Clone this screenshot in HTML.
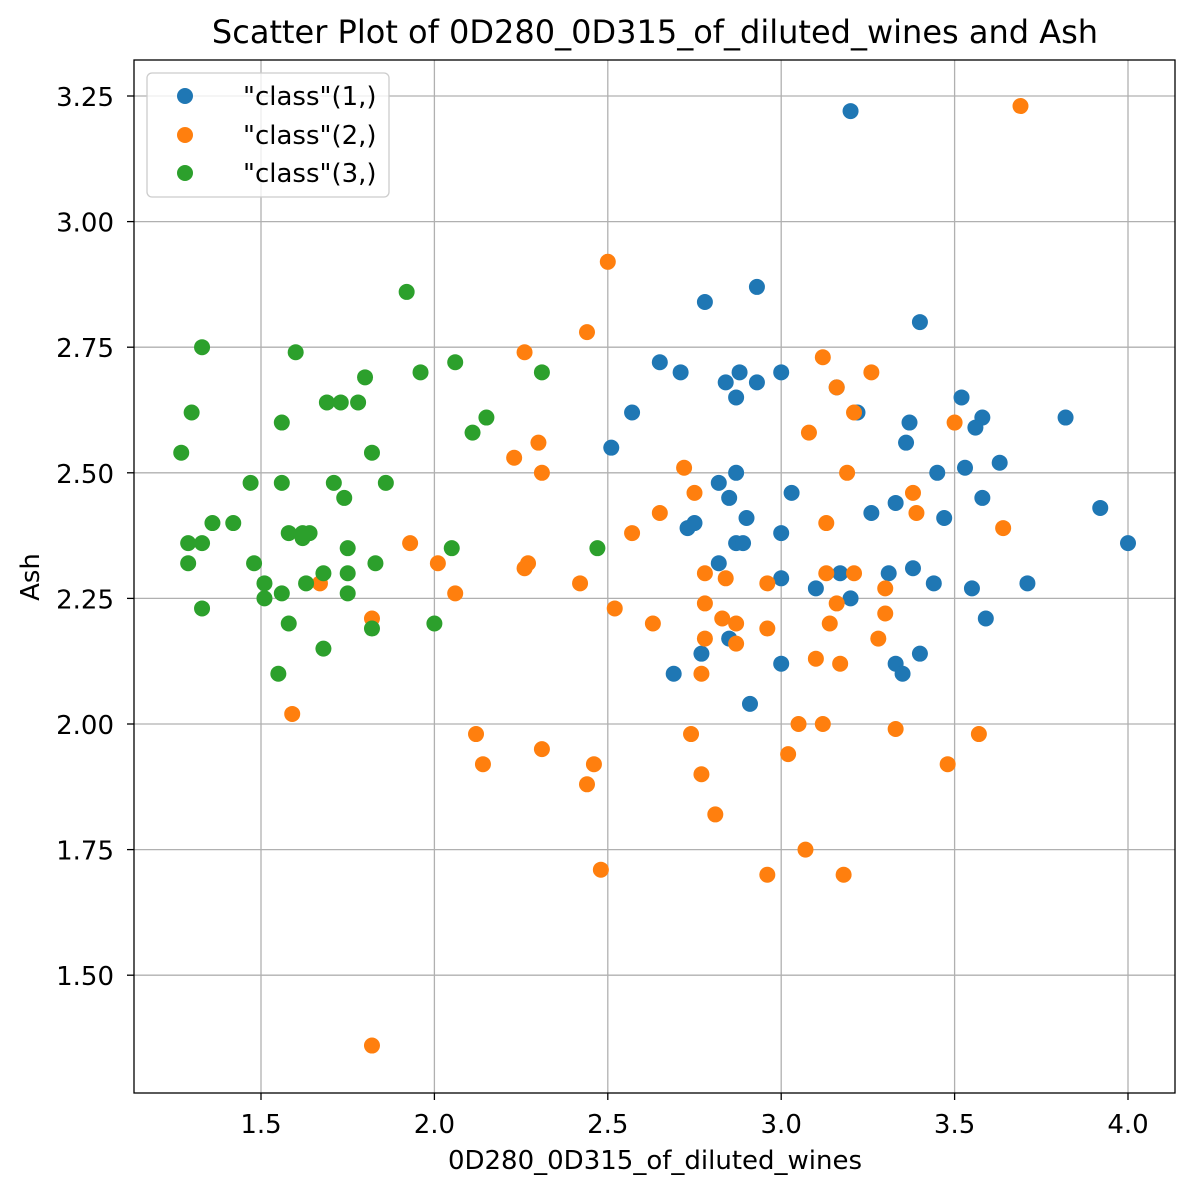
<!DOCTYPE html>
<html><head><meta charset="utf-8"><style>
html,body{margin:0;padding:0;background:#fff;}
svg{display:block;font-family:"DejaVu Sans","Liberation Sans",sans-serif;}
</style></head><body>
<svg id="chart" width="1194" height="1194" viewBox="0 0 1194 1194">
<rect x="0" y="0" width="1194" height="1194" fill="#fff"/>
<text x="655" y="43" text-anchor="middle" font-size="32" fill="#000">Scatter Plot of 0D280_0D315_of_diluted_wines and Ash</text>
<g id="grid"></g>
<g id="marks"></g>
<rect x="134" y="60" width="1041" height="1033" fill="none" stroke="#000" stroke-width="1.3"/>
<g id="ticks"></g>
<text x="655" y="1169" text-anchor="middle" font-size="26">0D280_0D315_of_diluted_wines</text>
<text x="39" y="577" text-anchor="middle" font-size="26" transform="rotate(-90 39 577)">Ash</text>
<g>
<rect x="147" y="73" width="242" height="124" rx="5" fill="#fff" fill-opacity="0.8" stroke="#ccc" stroke-width="1.3"/>
<circle cx="185" cy="96" r="8" fill="#1f77b4"/>
<text x="243" y="105" font-size="26">"class"(1,)</text>
<circle cx="185" cy="135" r="8" fill="#ff7f0e"/>
<text x="243" y="144" font-size="26">"class"(2,)</text>
<circle cx="185" cy="173" r="8" fill="#2ca02c"/>
<text x="243" y="182" font-size="26">"class"(3,)</text>
</g>
</svg>
<script>
const xTicks=[1.5,2.0,2.5,3.0,3.5,4.0];
const xTickLabels=["1.5","2.0","2.5","3.0","3.5","4.0"];
const yTicks=[1.5,1.75,2.0,2.25,2.5,2.75,3.0,3.25];
const yTickLabels=["1.50","1.75","2.00","2.25","2.50","2.75","3.00","3.25"];
const class1X=[3.20,2.78,2.93,3.40,2.65,2.71,2.84,2.88,2.93,3.00,2.87,2.57,3.16,3.22,3.52,3.58,3.56,3.37,3.36,3.82,3.63,3.53,3.45,2.87,2.82,2.85,3.03,3.58,3.92,3.33,3.26,2.90,3.47,2.75,2.73,3.00,2.87,2.89,4.00,2.82,3.38,3.31,3.17,3.00,3.10,3.55,3.44,3.71,3.20,3.59,2.85,2.77,3.40,3.33,3.00,3.35,2.69,2.91,2.51];
const class1Y=[3.22,2.84,2.87,2.80,2.72,2.70,2.68,2.70,2.68,2.70,2.65,2.62,2.67,2.62,2.65,2.61,2.59,2.60,2.56,2.61,2.52,2.51,2.50,2.50,2.48,2.45,2.46,2.45,2.43,2.44,2.42,2.41,2.41,2.40,2.39,2.38,2.36,2.36,2.36,2.32,2.31,2.30,2.30,2.29,2.27,2.27,2.28,2.28,2.25,2.21,2.17,2.14,2.14,2.12,2.12,2.10,2.10,2.04,2.55];
const class2X=[3.69,2.50,2.44,2.26,3.12,3.26,3.16,3.21,3.08,3.50,2.30,2.23,2.72,2.31,3.19,2.75,3.38,2.65,3.39,3.13,3.64,2.57,1.93,2.01,2.27,2.26,2.78,3.13,3.21,2.84,2.42,2.96,1.67,3.30,2.06,2.78,3.16,2.52,3.30,1.82,2.83,2.63,2.87,3.14,2.96,2.78,3.28,2.87,3.10,3.17,2.77,1.59,3.05,3.12,3.33,2.12,2.74,3.57,2.31,3.02,2.14,2.46,3.48,2.77,2.44,2.81,3.07,2.48,2.96,3.18,1.82];
const class2Y=[3.23,2.92,2.78,2.74,2.73,2.70,2.67,2.62,2.58,2.60,2.56,2.53,2.51,2.50,2.50,2.46,2.46,2.42,2.42,2.40,2.39,2.38,2.36,2.32,2.32,2.31,2.30,2.30,2.30,2.29,2.28,2.28,2.28,2.27,2.26,2.24,2.24,2.23,2.22,2.21,2.21,2.20,2.20,2.20,2.19,2.17,2.17,2.16,2.13,2.12,2.10,2.02,2.00,2.00,1.99,1.98,1.98,1.98,1.95,1.94,1.92,1.92,1.92,1.90,1.88,1.82,1.75,1.71,1.70,1.70,1.36];
const class3X=[1.92,1.33,1.60,1.96,2.06,2.31,1.80,1.69,1.73,1.78,1.30,2.15,1.56,2.11,1.82,1.27,1.47,1.56,1.71,1.86,1.74,1.36,1.42,1.58,1.62,1.64,1.62,1.29,1.33,1.75,2.05,2.47,1.48,1.29,1.83,1.68,1.75,1.51,1.63,1.51,1.56,1.75,1.33,1.58,2.00,1.82,1.68,1.55];
const class3Y=[2.86,2.75,2.74,2.70,2.72,2.70,2.69,2.64,2.64,2.64,2.62,2.61,2.60,2.58,2.54,2.54,2.48,2.48,2.48,2.48,2.45,2.40,2.40,2.38,2.38,2.38,2.37,2.36,2.36,2.35,2.35,2.35,2.32,2.32,2.32,2.30,2.30,2.28,2.28,2.25,2.26,2.26,2.23,2.20,2.20,2.19,2.15,2.10];

const NS="http://www.w3.org/2000/svg";
function xScale(v){return 261+(v-1.5)*346.8;}
function yScale(v){return 96+(3.25-v)*502.4;}
const grid=document.getElementById('grid'),ticks=document.getElementById('ticks'),marks=document.getElementById('marks');
function mk(tag,attrs,parent){const e=document.createElementNS(NS,tag);for(const k in attrs)e.setAttribute(k,attrs[k]);parent.appendChild(e);return e;}
xTicks.forEach((v,i)=>{
  const x=xScale(v);
  const g=mk('line',{x1:x,x2:x,y1:60,y2:1093,stroke:'#b0b0b0','stroke-width':1.3},grid);
  
  
  const t=mk('line',{x1:x,x2:x,y1:1093,y2:1100,stroke:'#000','stroke-width':1.3},ticks);
  
  
  const l=mk('text',{x:x,y:1133,'text-anchor':'middle','font-size':26},ticks);
  l.textContent=xTickLabels[i];
  
  
});
yTicks.forEach((v,i)=>{
  const y=yScale(v);
  const g=mk('line',{x1:134,x2:1175,y1:y,y2:y,stroke:'#b0b0b0','stroke-width':1.3},grid);
  
  
  const t=mk('line',{x1:127,x2:134,y1:y,y2:y,stroke:'#000','stroke-width':1.3},ticks);
  
  
  const l=mk('text',{x:114,y:y+10,'text-anchor':'end','font-size':26},ticks);
  l.textContent=yTickLabels[i];
  
  
});
function series(xs,ys,color,name){
  xs.forEach((v,i)=>{
    const c=mk('circle',{cx:xScale(v),cy:yScale(ys[i]),r:8,fill:color},marks);
    
    
  });
}
series(class1X,class1Y,'#1f77b4','point-class-1');
series(class2X,class2Y,'#ff7f0e','point-class-2');
series(class3X,class3Y,'#2ca02c','point-class-3');
</script>
</body></html>
